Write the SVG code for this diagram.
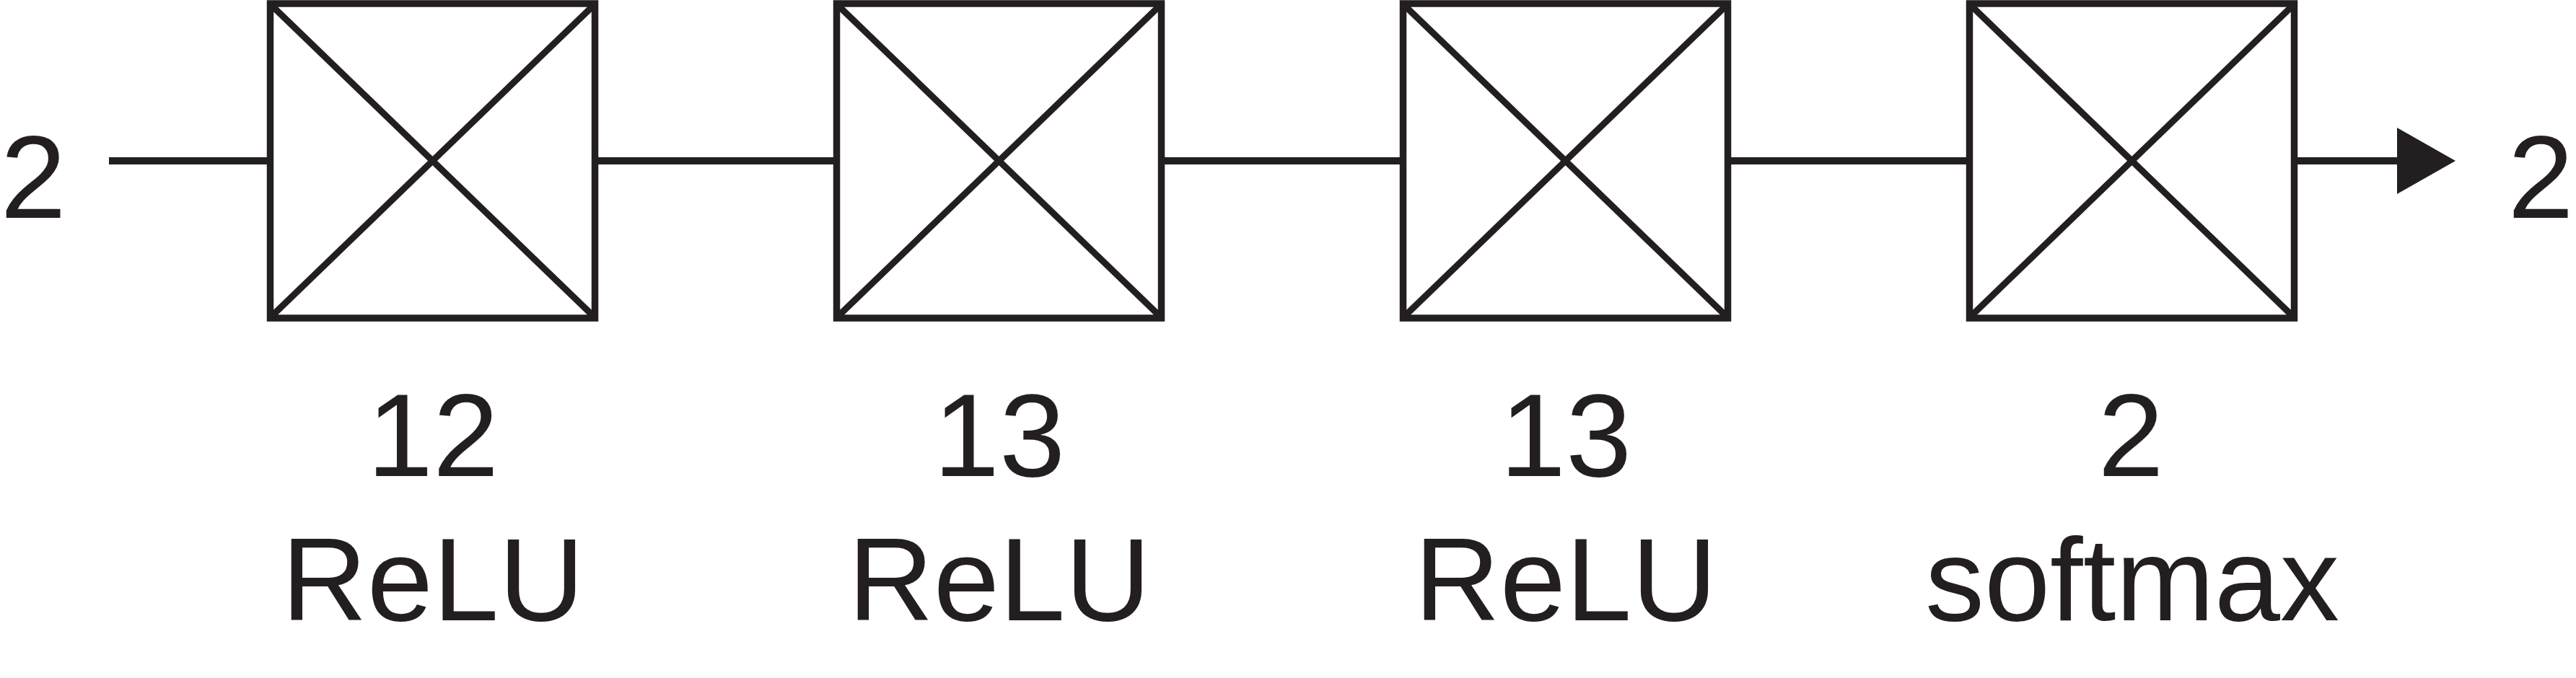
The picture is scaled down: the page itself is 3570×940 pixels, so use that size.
<svg xmlns="http://www.w3.org/2000/svg" width="3570" height="940" viewBox="0 0 3570 940">
<style>
.box{fill:#fff;stroke:#231f20;stroke-width:9.5}
.diag{stroke:#231f20;stroke-width:9}
.conn{stroke:#231f20;stroke-width:10;fill:none}
.t{font-family:"Liberation Sans",Arial,sans-serif;font-size:164px;fill:#231f20;text-anchor:middle}
</style>
<rect width="3570" height="940" fill="#fff"/>
<g id="connectors">
<line class="conn" x1="151" y1="223" x2="372" y2="223"/>
<line class="conn" x1="827" y1="223" x2="1157" y2="223"/>
<line class="conn" x1="1612" y1="223" x2="1942" y2="223"/>
<line class="conn" x1="2397" y1="223" x2="2727" y2="223"/>
<line class="conn" x1="3180" y1="223" x2="3325" y2="223"/>
<polygon points="3322,177 3403,223 3322,269" fill="#231f20"/>
</g>
<g id="input"><text class="t" x="46" y="302">2</text></g>
<g id="output"><text class="t" x="3521" y="302">2</text></g>
<g id="layer1">
<rect class="box" x="374.5" y="5" width="450" height="436"/>
<line class="diag" x1="379" y1="10" x2="820" y2="436"/>
<line class="diag" x1="820" y1="10" x2="379" y2="436"/>
<text class="t" x="600" y="660">12</text>
<text class="t" x="600" y="860">ReLU</text>
</g>
<g id="layer2">
<rect class="box" x="1159.5" y="5" width="450" height="436"/>
<line class="diag" x1="1164" y1="10" x2="1605" y2="436"/>
<line class="diag" x1="1605" y1="10" x2="1164" y2="436"/>
<text class="t" x="1385" y="660">13</text>
<text class="t" x="1385" y="860">ReLU</text>
</g>
<g id="layer3">
<rect class="box" x="1944.5" y="5" width="450" height="436"/>
<line class="diag" x1="1949" y1="10" x2="2390" y2="436"/>
<line class="diag" x1="2390" y1="10" x2="1949" y2="436"/>
<text class="t" x="2170" y="660">13</text>
<text class="t" x="2170" y="860">ReLU</text>
</g>
<g id="layer4">
<rect class="box" x="2729.5" y="5" width="450" height="436"/>
<line class="diag" x1="2734" y1="10" x2="3175" y2="436"/>
<line class="diag" x1="3175" y1="10" x2="2734" y2="436"/>
<text class="t" x="2953" y="660">2</text>
<text class="t" x="2955" y="860">softmax</text>
</g>
</svg>
